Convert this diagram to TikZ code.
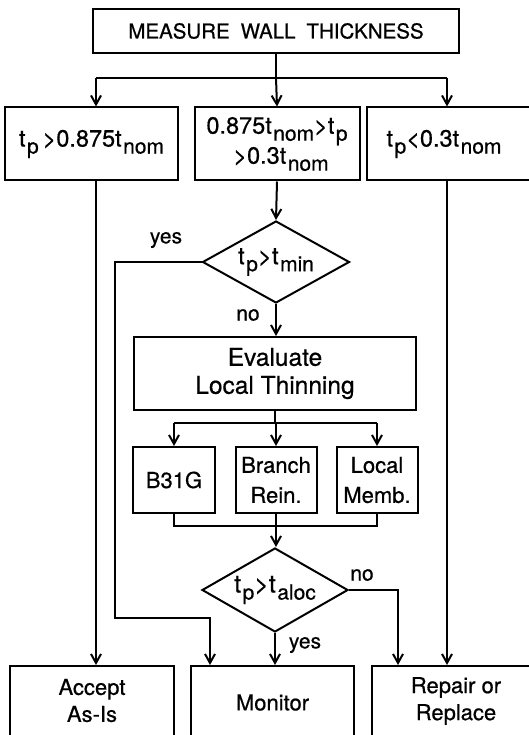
\documentclass[tikz,border=0pt]{standalone}
\usepackage{fontspec}
\setmainfont{TeX Gyre Heros}[FakeBold=0.6]
\usetikzlibrary{shapes.geometric,arrows.meta}
\newcommand\lo[1]{\kern1.5pt\raisebox{-7pt}{\fontsize{21}{21}\selectfont #1}}
\begin{document}
\begin{tikzpicture}[x=1pt,y=-1pt,line width=2pt,
  box/.style={draw,rectangle,inner sep=0pt,font=\fontsize{22}{28}\selectfont,align=center},
  dia/.style={draw,diamond,aspect=1.75,inner sep=0pt,font=\fontsize{24}{28}\selectfont},
  txt/.style={inner sep=0pt,font=\fontsize{22}{27}\selectfont,align=center},
  frm/.style={font=\fontsize{23.5}{30}\selectfont},
  arr/.style={-{Straight Barb[length=9pt,width=10pt]}},
  lab/.style={inner sep=0pt,font=\fontsize{21}{24}\selectfont}]
\useasboundingbox (0,0) rectangle (529,735);
\clip (0,0) rectangle (529,735);
% nodes
\node[box,minimum width=366pt,minimum height=44pt,font=\fontsize{20.5}{22}\selectfont] (top) at (276,31)
  {MEASURE\hspace{11pt}WALL\hspace{11pt}THICKNESS};
\node[box,frm,minimum width=173pt,minimum height=73pt] (b1) at (91.5,144)
  {t\lo{p}\,>0.875t\lo{nom}};
\node[box,frm,minimum width=165pt,minimum height=73pt] (b2) at (277,144)
  {0.875t\lo{nom}>t\lo{p}\\\hspace{8pt}>0.3t\lo{nom}};
\node[box,minimum width=178pt,minimum height=73pt] (b3) at (456,144) {};
\node[txt,frm] (b3t) at (444,144) {t\lo{p}<0.3t\lo{nom}};
\node[dia,minimum width=147pt,minimum height=82pt] (d1) at (276,262) {t\lo{p}>t\lo{min}};
\node[box,minimum width=282pt,minimum height=73pt,font=\fontsize{24.5}{28}\selectfont] (ev) at (275,373.5)
  {Evaluate\\Local Thinning};
\node[box,minimum width=82pt,minimum height=66pt] (m1) at (174,480) {B31G};
\node[box,minimum width=81pt,minimum height=66pt,font=\fontsize{22}{30}\selectfont] (m2) at (276,480) {Branch\\Rein.};
\node[box,minimum width=81pt,minimum height=66pt,font=\fontsize{22}{30}\selectfont] (m3) at (377,480) {Local\\Memb.};
\node[dia,minimum width=146pt,minimum height=84pt,font=\fontsize{25}{28}\selectfont] (d2) at (275,590) {t\lo{p}>t\lo{aloc}};
\node[box,minimum width=164pt,minimum height=124pt] (acc) at (92,728) {};
\node[txt] (acct) at (92,700.5) {Accept\\As-Is};
\node[box,minimum width=163pt,minimum height=124pt] (mon) at (272.5,728) {};
\node[txt] (mont) at (272.5,702.5) {Monitor};
\node[box,minimum width=173pt,minimum height=124pt] (rep) at (458.5,728) {};
\node[txt] (rept) at (456,701) {Repair or\\Replace};
% labels
\node[lab] (yes1) at (166,240) {yes};
\node[lab] (no1) at (248,315) {no};
\node[lab] (no2) at (362,575) {no};
\node[lab] (yes2) at (305,645) {yes};
% coordinates
\coordinate (j1) at (276,78);
\coordinate (j1l) at (96,78);
\coordinate (j1r) at (447,78);
\coordinate (y1) at (115,262);
\coordinate (y2) at (115,618);
\coordinate (y3) at (210,618);
\coordinate (j2) at (275,423);
\coordinate (j2l) at (174,423);
\coordinate (j2r) at (377,423);
\coordinate (j3) at (276,526);
\coordinate (j3l) at (174,526);
\coordinate (j3r) at (377,526);
\coordinate (n1) at (398,590);
% connectors
\draw (top.south) -- (j1);
\draw (j1l) -- (j1r);
\draw[arr] (j1l) -- (j1l |- b1.north);
\draw[arr] (j1) -- (b2.north);
\draw[arr] (j1r) -- (j1r |- b3.north);
\draw[arr] (j1l |- b1.south) -- (j1l |- acc.north);
\draw[arr] (j1r |- b3.south) -- (j1r |- rep.north);
\draw[arr] (b2.south) -- (d1.north);
\draw[arr] (d1.west) -- (y1) -- (y2) -- (y3) -- (y3 |- mon.north);
\draw[arr] (d1.south) -- (d1.south |- ev.north);
\draw (ev.south -| j2) -- (j2);
\draw (j2l) -- (j2r);
\draw[arr] (j2l) -- (m1.north);
\draw[arr] (j2 -| m2.north) -- (m2.north);
\draw[arr] (j2r) -- (m3.north);
\draw (m1.south) -- (j3l) -- (j3r) -- (m3.south);
\draw (m2.south) -- (j3);
\draw[arr] (j3) -- (j3 |- d2.north);
\draw[arr] (d2.south) -- (d2.south |- mon.north);
\draw[arr] (d2.east) -- (n1) -- (n1 |- rep.north);
\end{tikzpicture}
\end{document}
